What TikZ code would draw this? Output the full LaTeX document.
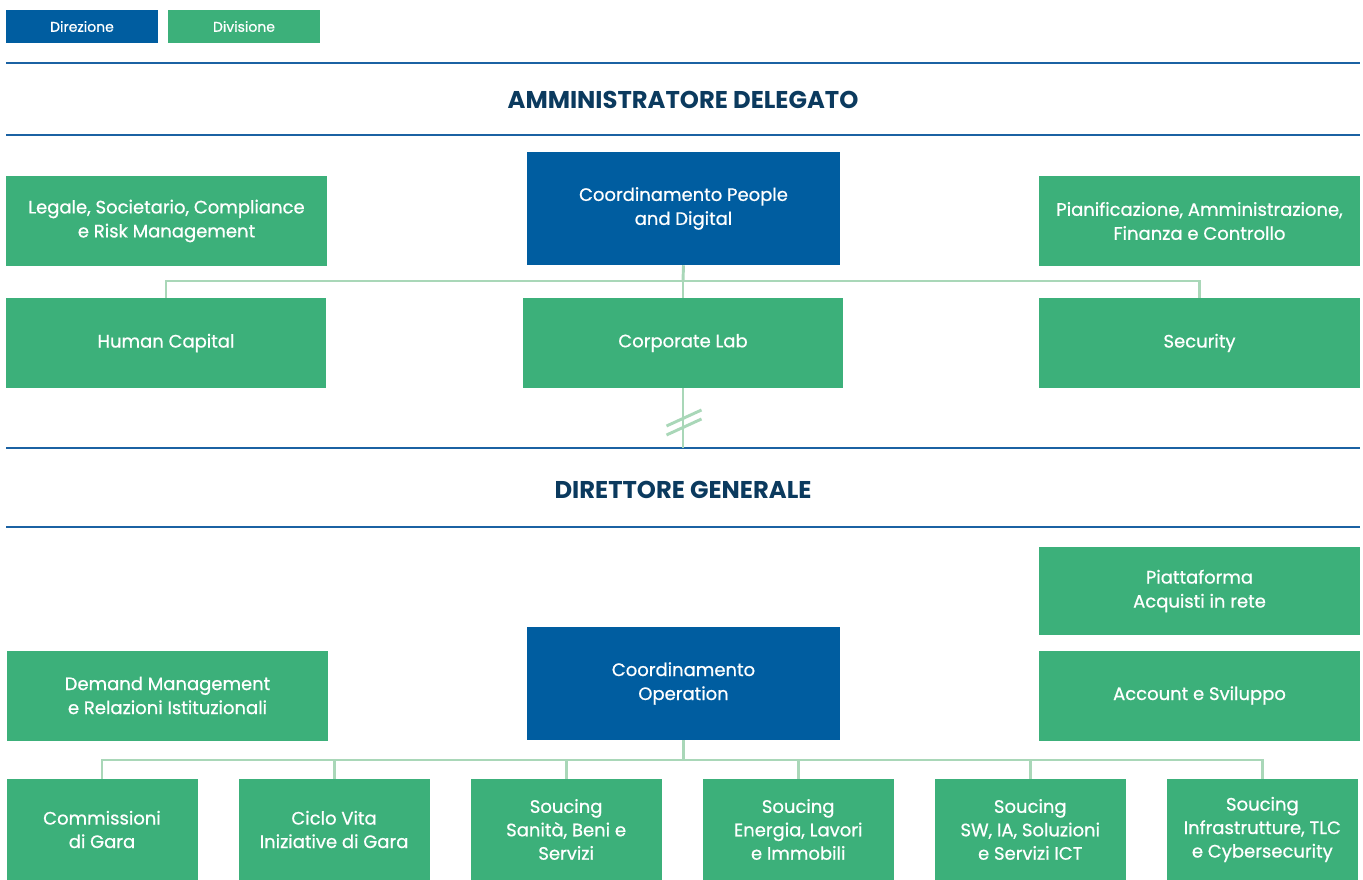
\documentclass[tikz,border=0pt]{standalone}
\usepackage{fontspec}
\setmainfont{Poppins}
\newfontfamily\boxfont{Poppins}[FakeBold=0.7]
\usetikzlibrary{positioning}

\definecolor{dirblue}{HTML}{005DA0}
\definecolor{divgreen}{HTML}{3CB07A}
\definecolor{linkgreen}{HTML}{A9D7B8}
\definecolor{ruleblue}{HTML}{1B62A3}
\definecolor{titlenavy}{HTML}{0B3A5E}

\begin{document}
\begin{tikzpicture}[
        x=0.75pt, y=-0.75pt,
        box/.style={rectangle, inner sep=0pt, align=center, text=white, font=\boxfont\fontsize{13.5}{18}\selectfont},
        dir/.style={box, fill=dirblue},
        div/.style={box, fill=divgreen},
        wide/.style={minimum width=240.5pt, minimum height=67.5pt},
        tall/.style={minimum width=234.75pt, minimum height=84.75pt},
        unit/.style={minimum width=143.25pt, minimum height=75.75pt, font=\boxfont\fontsize{13.5}{17.6}\selectfont},
        key/.style={minimum width=114pt, minimum height=24.75pt, font=\boxfont\fontsize{10.5}{12}\selectfont},
        title/.style={text=titlenavy, font=\bfseries\fontsize{18.2}{20}\selectfont},
        rule/.style={draw=ruleblue, line width=2pt},
        link/.style={draw=linkgreen, line width=2.2pt}
      ]

      \useasboundingbox (0,0) rectangle (1363,880);

      % Legend
      \node[dir, key] (keydir) at (82,26.5) {Direzione};
      \node[div, key] (keydiv) at (244,26.5) {Divisione};

      % Amministratore Delegato
      \draw[rule] (6,63) -- (1360,63);
      \node[title] (ad) at (683,100) {AMMINISTRATORE DELEGATO};
      \draw[rule] (6,135) -- (1360,135);

      \node[div, wide] (legale) at (166.5,221) {Legale, Societario, Compliance\\e Risk Management};
      \node[dir, tall] (people) at (683.5,208.5) {Coordinamento People\\and Digital};
      \node[div, wide] (pianif) at (1199.5,221) {Pianificazione, Amministrazione,\\Finanza e Controllo};

      \node[div, wide] (human) at (166,343) {Human Capital};
      \node[div, wide] (lab) at (683,343) {Corporate Lab};
      \node[div, wide] (security) at (1199.5,343) {Security};

      % Direttore Generale
      \draw[rule] (6,448) -- (1360,448);
      \node[title] (dg) at (683,490) {DIRETTORE GENERALE};
      \draw[rule] (6,527) -- (1360,527);

      \node[div, wide, minimum height=66pt] (piatt) at (1199.5,591) {Piattaforma\\Acquisti in rete};
      \node[div, wide] (demand) at (167.5,695.5) {Demand Management\\e Relazioni Istituzionali};
      \node[dir, tall] (oper) at (683.5,683.5) {Coordinamento\\Operation};
      \node[div, wide] (account) at (1199.5,695.5) {Account e Sviluppo};

      % Sourcing row
      \node[div, unit] (comm) at (102,829.5) {Commissioni\\di Gara};
      \node[div, unit, right=30.4pt of comm] (ciclo) {Ciclo Vita\\Iniziative di Gara};
      \node[div, unit, right=30.4pt of ciclo] (sanita) {Soucing\\Sanità, Beni e\\Servizi};
      \node[div, unit, right=30.4pt of sanita] (energia) {Soucing\\Energia, Lavori\\e Immobili};
      \node[div, unit, right=30.4pt of energia] (ict) {Soucing\\SW, IA, Soluzioni\\e Servizi ICT};
      \node[div, unit, right=30.4pt of ict] (infra) {Soucing\\Infrastrutture, TLC\\e Cybersecurity};

      % Connections
      \coordinate (bus1) at (683,281);
      \draw[link] (people.south) -- (bus1);
      \draw[link] (human.north) |- (bus1) -| (security.north);
      \draw[link] (bus1) -- (lab.north);

      \coordinate (dgrule) at (683,448);
      \coordinate (brk) at (683.5,418);
      \draw[link] (lab.south) -- (dgrule);
      \draw[link] ([shift={(-17,8)}]brk) -- ++(35,-16);
      \draw[link] ([shift={(-17,17)}]brk) -- ++(35,-16);

      \coordinate (bus2) at (681,760);
      \draw[link] (oper.south) -- (oper.south |- bus2);
      \draw[link] (comm.north) |- (bus2) -| (infra.north);
      \draw[link] (ciclo.north) -- (ciclo.north |- bus2);
      \draw[link] (sanita.north) -- (sanita.north |- bus2);
      \draw[link] (energia.north) -- (energia.north |- bus2);
      \draw[link] (ict.north) -- (ict.north |- bus2);

      \end{tikzpicture}
\end{document}
